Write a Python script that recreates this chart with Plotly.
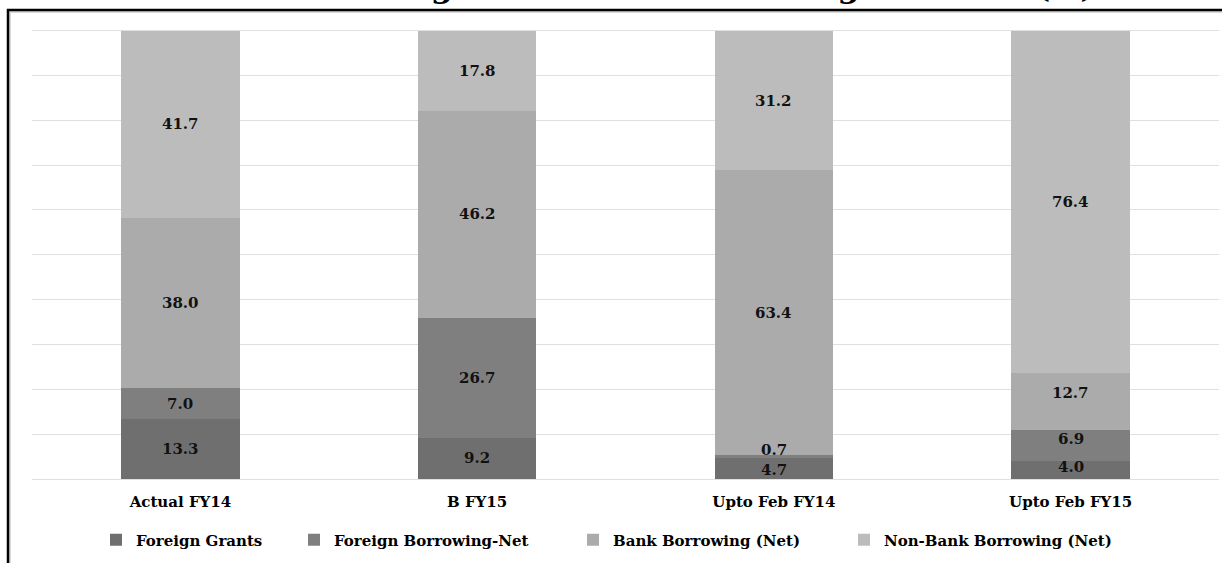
import plotly.graph_objects as go

# Financing sources, share of total deficit financing (%)
categories = ["Actual FY14", "B FY15", "Upto Feb FY14", "Upto Feb FY15"]
foreign_grants = [13.3, 9.2, 4.7, 4.0]
foreign_borrowing_net = [7.0, 26.7, 0.7, 6.9]
bank_borrowing_net = [38.0, 46.2, 63.4, 12.7]
non_bank_borrowing_net = [41.7, 17.8, 31.2, 76.4]

series_names = ["Foreign Grants", "Foreign Borrowing-Net",
                "Bank Borrowing (Net)", "Non-Bank Borrowing (Net)"]
series_values = [foreign_grants, foreign_borrowing_net,
                 bank_borrowing_net, non_bank_borrowing_net]
series_colors = ["#6f6f6f", "#7f7f7f", "#ababab", "#bcbcbc"]

title_text = "Share of Financing Sources in Total Budget Deficit (%)"

FONT = "DejaVu Serif"
W, H = 1222, 563
ML, MR, MT, MB = 32, 3, 27, 84
plot_h = H - MT - MB
plot_w = W - ML - MR

# pixel nudges for labels sitting in thin segments
label_nudge = {
    (1, 2): 6, (0, 2): -2,
    (2, 3): 9, (1, 3): 7, (0, 3): 3,
}

legend_keys = ["legend", "legend2", "legend3", "legend4"]
legend_text_x = [136, 334, 613, 884]

fig = go.Figure()
for i, (name, vals, col) in enumerate(zip(series_names, series_values, series_colors)):
    fig.add_trace(go.Bar(
        name=name, x=categories, y=vals,
        marker=dict(color=col, line=dict(width=0)),
        legend=legend_keys[i],
        hoverinfo="x+y+name",
    ))

# value labels centred in each stacked segment
annotations = []
for j, cat in enumerate(categories):
    base = 0.0
    for i, vals in enumerate(series_values):
        v = vals[j]
        annotations.append(dict(
            x=cat, y=base + v / 2, xref="x", yref="y",
            text=f"{v:.1f}", showarrow=False,
            yshift=label_nudge.get((i, j), 0),
            font=dict(family=FONT, size=15, color="#111111", weight="bold"),
        ))
        base += v

# chart title (sits above the frame)
annotations.append(dict(
    x=(604 - ML) / plot_w, y=(plot_h + MT - 7) / plot_h,
    xref="paper", yref="paper", xanchor="center", yanchor="bottom",
    text=title_text, showarrow=False,
    font=dict(family=FONT, size=32, color="#000000", weight="bold"),
))

legend_layout = {}
for k, key in enumerate(legend_keys):
    legend_layout[key] = dict(
        orientation="h", x=(legend_text_x[k] - 40 - ML) / plot_w,
        y=(plot_h - (540 - MT)) / plot_h,
        xanchor="left", yanchor="middle",
        bgcolor="rgba(0,0,0,0)", borderwidth=0,
        font=dict(family=FONT, size=15, color="#000000", weight="bold"),
    )

frame_top = (plot_h + MT - 10) / plot_h
frame_left = (8 - ML) / plot_w
shapes = [
    dict(type="rect", xref="paper", yref="paper",
         x0=frame_left + 2 / plot_w, x1=1.2, y0=-0.5, y1=frame_top - 2 / plot_h,
         line=dict(color="#d9d9d9", width=2), fillcolor="rgba(0,0,0,0)", layer="below"),
    dict(type="rect", xref="paper", yref="paper",
         x0=frame_left, x1=1.2, y0=-0.5, y1=frame_top,
         line=dict(color="#000000", width=2.5), fillcolor="rgba(0,0,0,0)", layer="above"),
]

fig.update_layout(
    width=W, height=H,
    margin=dict(l=ML, r=MR, t=MT, b=MB, pad=0),
    barmode="stack", bargap=0.6,
    paper_bgcolor="white", plot_bgcolor="white",
    showlegend=True,
    annotations=annotations, shapes=shapes,
    xaxis=dict(showgrid=False, showline=False, ticks="", ticklabelstandoff=12,
               tickfont=dict(family=FONT, size=15, color="#000000", weight="bold")),
    yaxis=dict(range=[0, 100.8], dtick=10, showticklabels=False,
               gridcolor="#e0e0e0", gridwidth=1,
               zeroline=True, zerolinecolor="#e0e0e0", zerolinewidth=1, showline=False),
    **legend_layout,
)

fig.write_html("out.html")
